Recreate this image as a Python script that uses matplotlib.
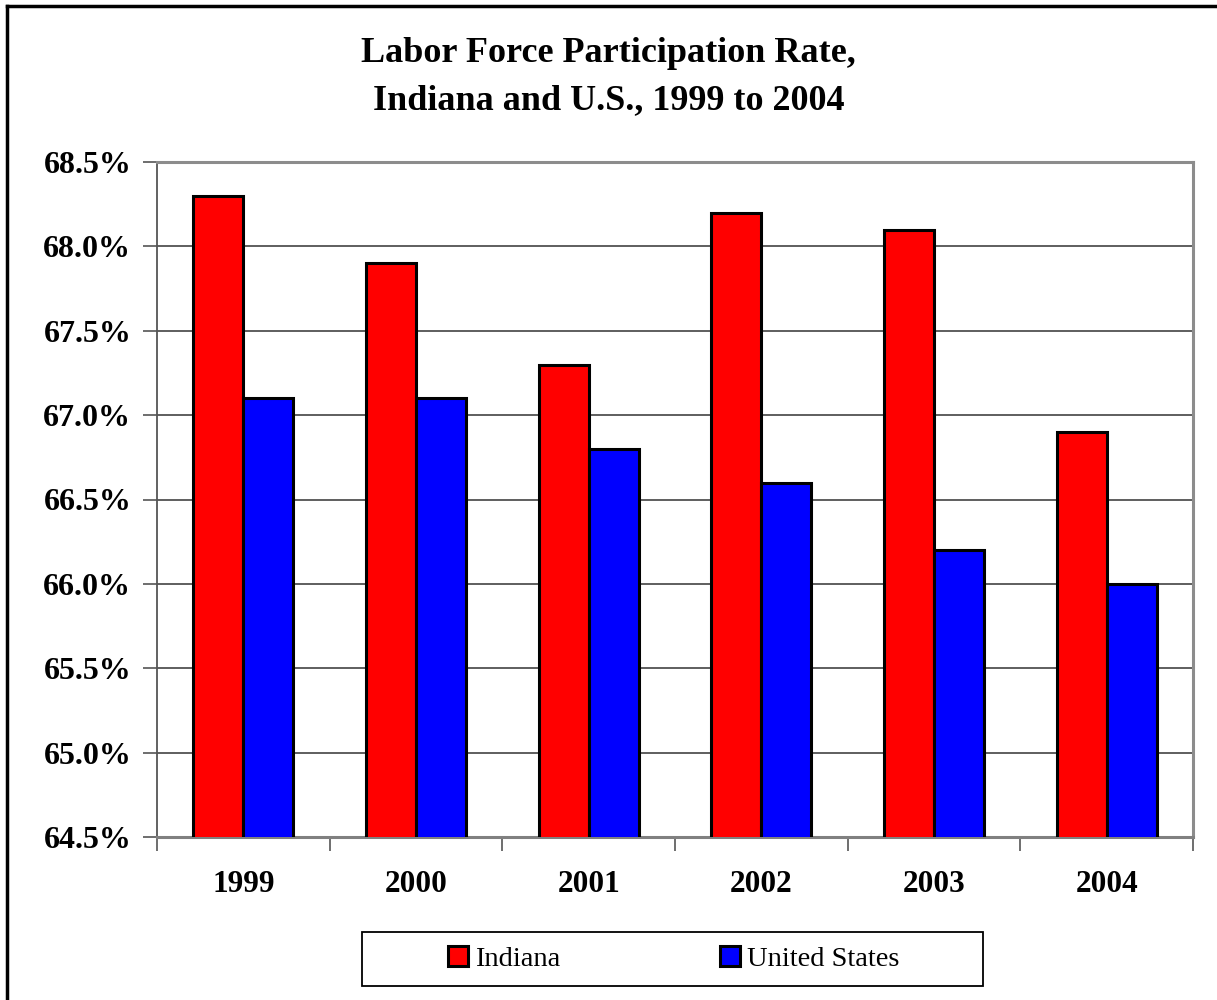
import matplotlib
matplotlib.use("Agg")
import matplotlib.pyplot as plt
from matplotlib.patches import Rectangle
from matplotlib.lines import Line2D
from matplotlib.ticker import FixedLocator, FuncFormatter
import numpy as np

years = ["1999", "2000", "2001", "2002", "2003", "2004"]
indiana = [68.3, 67.9, 67.3, 68.2, 68.1, 66.9]
united_states = [67.1, 67.1, 66.8, 66.6, 66.2, 66.0]
y_ticks = [64.5, 65.0, 65.5, 66.0, 66.5, 67.0, 67.5, 68.0, 68.5]

plt.rcParams["font.family"] = ["Liberation Serif", "DejaVu Serif"]

W, H = 1217, 1000
fig = plt.figure(figsize=(W / 100, H / 100), dpi=100)

# plot area in pixel terms: x 157..1193, y 162..837 from the top
ax = fig.add_axes([157 / W, 1 - 837 / H, (1193 - 157) / W, (837 - 162) / H])

x = np.arange(len(years))
w = 0.29
ax.bar(x - w / 2, indiana, w, color="#ff0000", edgecolor="black",
       linewidth=2.2, label="Indiana", zorder=3)
ax.bar(x + w / 2, united_states, w, color="#0000ff", edgecolor="black",
       linewidth=2.2, label="United States", zorder=3)

ax.set_xlim(-0.5, len(years) - 0.5)
ax.set_ylim(64.5, 68.5)
ax.yaxis.set_major_locator(FixedLocator(y_ticks))
ax.yaxis.set_major_formatter(FuncFormatter(lambda v, p: f"{v:.1f}%"))
ax.grid(axis="y", color="#333333", linewidth=1.1, zorder=0)

ax.set_xticks(x)
ax.set_xticklabels(years)
ax.set_xticks(np.arange(len(years) + 1) - 0.5, minor=True)
ax.tick_params(axis="x", which="major", length=0, pad=24, labelsize=22.5)
ax.tick_params(axis="x", which="minor", length=10, width=1.2, color="#555555",
               direction="out")
ax.tick_params(axis="y", length=10, width=1.2, color="#555555", pad=8.5,
               labelsize=23)
for lbl in ax.get_xticklabels() + ax.get_yticklabels():
    lbl.set_fontweight("bold")

for side in ["top", "right"]:
    ax.spines[side].set_color("#8c8c8c")
    ax.spines[side].set_linewidth(2.2)
ax.spines["left"].set_color("#555555")
ax.spines["left"].set_linewidth(1.3)
ax.spines["bottom"].set_color("#808080")
ax.spines["bottom"].set_linewidth(2.2)

# two-line title
fig.text(0.5, 1 - 62 / H, "Labor Force Participation Rate,", ha="center",
         va="baseline", fontsize=26, fontweight="bold")
fig.text(0.5, 1 - 109 / H, "Indiana and U.S., 1999 to 2004", ha="center",
         va="baseline", fontsize=26, fontweight="bold")

# legend: entries without frame, plus a plain rectangular box
leg = fig.legend(loc="center", bbox_to_anchor=(673.5 / W, 1 - 959 / H), ncol=2,
                 fontsize=20.5, frameon=False, handlelength=0.7,
                 handleheight=0.7, handletextpad=0.25, columnspacing=5.6,
                 borderpad=0, borderaxespad=0)
fig.patches.append(Rectangle((362 / W, 1 - 986 / H), (983 - 362) / W,
                             (986 - 932) / H, transform=fig.transFigure,
                             fill=False, edgecolor="black", linewidth=1.3))

# chart border along the left and top edges
fig.lines.append(Line2D([7 / W, 7 / W], [0, 1 - 6 / H],
                        transform=fig.transFigure, color="black",
                        linewidth=2.5, solid_capstyle="projecting"))
fig.lines.append(Line2D([7 / W, 1], [1 - 6 / H, 1 - 6 / H],
                        transform=fig.transFigure, color="black",
                        linewidth=2.5, solid_capstyle="projecting"))

fig.savefig("out.png", dpi=100, facecolor="white")
